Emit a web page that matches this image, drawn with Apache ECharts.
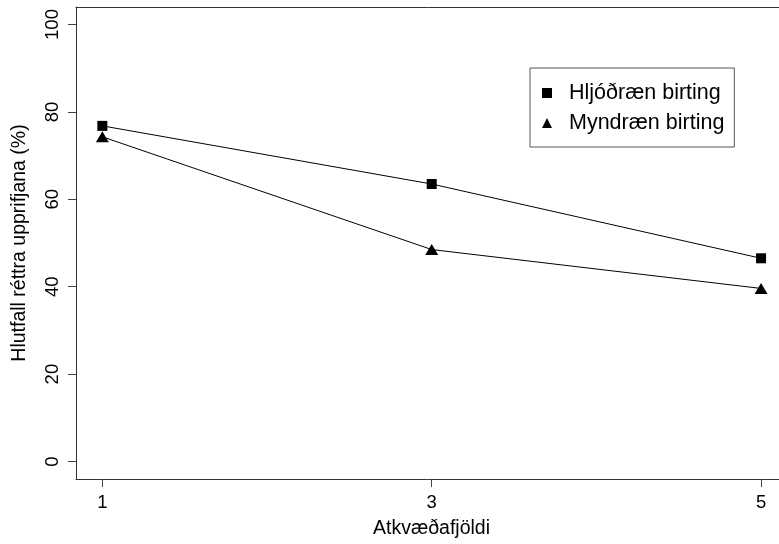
<!DOCTYPE html>
<html>
<head>
<meta charset="utf-8">
<script src="https://cdn.jsdelivr.net/npm/echarts@6/dist/echarts.min.js"></script>
<style>
  html, body { margin: 0; padding: 0; background: #fff; }
  #chart { width: 779px; height: 544px; }
</style>
</head>
<body>
<div id="chart"></div>
<script>
let xValues = [1, 3, 5];
let hljodraen = [76.8, 63.5, 46.5];
let myndraen = [74.3, 48.5, 39.6];
let yTicks = [0, 20, 40, 60, 80, 100];
let seriesNames = ['Hljóðræn birting', 'Myndræn birting'];

let font = 'Liberation Sans';
let myChart = echarts.init(document.getElementById('chart'));

function pairs(vals) {
  return xValues.map(function (x, i) { return [x, vals[i]]; });
}

// box: left, bottom and top edges; right edge falls outside the picture
let frameLine = { show: true, onZero: false, lineStyle: { color: '#333', width: 1 } };

let option = {
  backgroundColor: '#fff',
  animation: false,
  grid: {
    left: 76,
    top: 7,
    right: 0,
    bottom: 63
  },
  legend: {
    orient: 'vertical',
    left: 530,
    top: 68,
    itemWidth: 10,
    itemHeight: 10,
    itemGap: 8,
    padding: [14, 10, 13, 12],
    borderColor: '#555',
    borderWidth: 1,
    textStyle: {
      fontFamily: font,
      fontSize: 21.5,
      color: '#000',
      lineHeight: 20,
      padding: [0, 0, 0, 12]
    },
    data: [
      { name: seriesNames[0], icon: 'rect' },
      { name: seriesNames[1], icon: 'triangle' }
    ]
  },
  xAxis: [
    {
      type: 'value',
      min: 0.84,
      max: 5.109,
      name: 'Atkvæðafjöldi',
      nameLocation: 'middle',
      nameGap: 40,
      nameTextStyle: { fontFamily: font, fontSize: 19.5, color: '#000', padding: [0, 0, 0, 8] },
      splitLine: { show: false },
      axisLine: frameLine,
      axisTick: {
        show: true,
        customValues: xValues,
        length: 8,
        lineStyle: { color: '#444' }
      },
      axisLabel: {
        customValues: xValues,
        fontFamily: font,
        fontSize: 18.5,
        color: '#000',
        margin: 14
      }
    },
    {
      type: 'value',
      position: 'top',
      min: 0.84,
      max: 5.109,
      splitLine: { show: false },
      axisLine: frameLine,
      axisTick: { show: false },
      axisLabel: { show: false }
    }
  ],
  yAxis: {
    type: 'value',
    min: -4,
    max: 104,
    name: 'Hlutfall réttra upprifjana (%)',
    nameLocation: 'middle',
    nameGap: 46,
    nameTextStyle: { fontFamily: font, fontSize: 19.5, color: '#000' },
    splitLine: { show: false },
    axisLine: frameLine,
    axisTick: {
      show: true,
      customValues: yTicks,
      length: 8,
      lineStyle: { color: '#444' }
    },
    axisLabel: {
      customValues: yTicks,
      rotate: 90,
      fontFamily: font,
      fontSize: 18.5,
      color: '#000',
      margin: 14
    }
  },
  series: [
    {
      name: seriesNames[0],
      type: 'line',
      data: pairs(hljodraen),
      symbol: 'rect',
      symbolSize: 10,
      itemStyle: { color: '#000' },
      lineStyle: { color: '#000', width: 1 }
    },
    {
      name: seriesNames[1],
      type: 'line',
      data: pairs(myndraen),
      symbol: 'triangle',
      symbolSize: [13, 11],
      itemStyle: { color: '#000' },
      lineStyle: { color: '#000', width: 1 }
    }
  ]
};
myChart.setOption(option);
</script>
</body>
</html>
